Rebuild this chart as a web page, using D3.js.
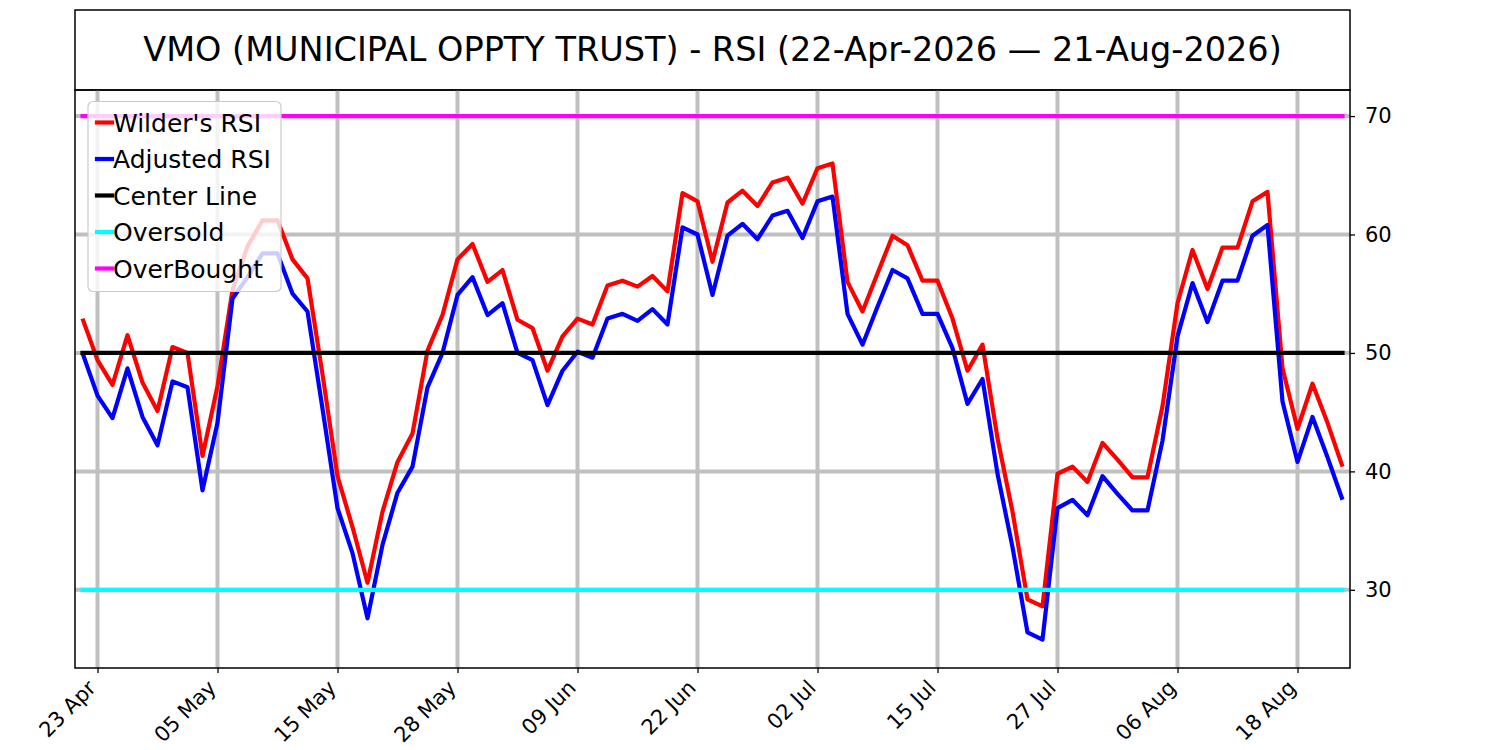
<!DOCTYPE html>
<html>
<head>
<meta charset="utf-8">
<script src="https://cdn.jsdelivr.net/npm/d3@7"></script>
<style>
  body { margin: 0; background: #fff; }
  svg { font-family: "DejaVu Sans", sans-serif; }
</style>
</head>
<body>
<div id="chart"></div>
<script>
// chart data
var firstDay = "2026-04-22";
var lastDay = "2026-08-21";
var holidays = ["2026-05-25", "2026-06-19", "2026-07-03"];
var tickIndex = [1, 9, 17, 25, 33, 41, 49, 57, 65, 73, 81];
var yTicks = [30, 40, 50, 60, 70];

var wilderRSI = [52.9, 49.4, 47.3, 51.5, 47.5, 45.1, 50.5, 50.0, 41.3, 47.2,
    55.3, 59.0, 61.2, 61.2, 57.9, 56.3, 48.2, 39.6, 35.3, 30.6,
    36.6, 40.8, 43.2, 50.2, 53.2, 57.9, 59.2, 56.0, 57.0, 52.8,
    52.1, 48.5, 51.4, 52.9, 52.4, 55.7, 56.1, 55.6, 56.5, 55.2,
    63.5, 62.8, 57.7, 62.7, 63.7, 62.4, 64.4, 64.8, 62.6, 65.6,
    66.0, 56.0, 53.5, 56.7, 59.9, 59.1, 56.1, 56.1, 52.9, 48.5,
    50.7, 42.8, 36.6, 29.2, 28.6, 39.8, 40.4, 39.1, 42.4, 41.0,
    39.5, 39.5, 45.5, 54.2, 58.7, 55.4, 58.9, 58.9, 62.8, 63.6,
    48.7, 43.6, 47.4, 44.1, 40.4];

var adjustedRSI = [50.0, 46.4, 44.5, 48.7, 44.6, 42.2, 47.6, 47.1, 38.4, 44.1,
    54.6, 56.4, 58.4, 58.4, 55.0, 53.5, 45.3, 36.9, 33.1, 27.6,
    33.8, 38.2, 40.4, 47.1, 50.0, 54.9, 56.4, 53.2, 54.2, 50.0,
    49.4, 45.6, 48.5, 50.1, 49.6, 52.9, 53.3, 52.7, 53.7, 52.4,
    60.6, 60.0, 54.9, 59.9, 60.9, 59.6, 61.6, 62.0, 59.7, 62.8,
    63.2, 53.3, 50.7, 53.9, 57.0, 56.3, 53.3, 53.3, 50.4, 45.7,
    47.8, 39.8, 33.6, 26.4, 25.8, 36.9, 37.6, 36.3, 39.6, 38.1,
    36.7, 36.7, 42.6, 51.4, 55.9, 52.6, 56.1, 56.1, 59.9, 60.8,
    45.9, 40.8, 44.6, 41.2, 37.6];

var centerLevel = 50;
var oversoldLevel = 30;
var overboughtLevel = 70;

var seriesNames = ["Wilder's RSI", "Adjusted RSI", "Center Line", "Oversold", "OverBought"];
var seriesColors = ["#ff0000", "#0000ff", "#000000", "#00ffff", "#ff00ff"];

function init() {
    var w = 1500;
    var h = 750;
    var left = 75, right = 1350, top = 90, bottom = 668;

    // trading days between first and last day
    var parse = d3.timeParse("%Y-%m-%d");
    var fmtKey = d3.timeFormat("%Y-%m-%d");
    var dates = d3.timeDay.range(parse(firstDay), d3.timeDay.offset(parse(lastDay), 1))
        .filter(function (d) {
            return d.getDay() !== 0 && d.getDay() !== 6 && holidays.indexOf(fmtKey(d)) < 0;
        });
    var fmtTick = d3.timeFormat("%d %b");
    var n = wilderRSI.length;

    var xScale = d3.scaleLinear()
        .domain([-0.5, n - 0.5])
        .range([left, right]);

    var yScale = d3.scaleLinear()
        .domain([23.4, 72.2])
        .range([bottom, top]);

    var svg = d3.select("#chart")
        .append("svg")
        .attr("width", w)
        .attr("height", h);

    // title box
    svg.append("rect")
        .attr("x", left)
        .attr("y", 10)
        .attr("width", right - left)
        .attr("height", top - 10)
        .attr("fill", "white")
        .attr("stroke", "black")
        .attr("stroke-width", 1.5);

    svg.append("text")
        .attr("x", (left + right) / 2)
        .attr("y", 61)
        .attr("text-anchor", "middle")
        .attr("font-size", "33.5px")
        .text("VMO (MUNICIPAL OPPTY TRUST) - RSI (22-Apr-2026 \u2014 21-Aug-2026)");

    // grid
    svg.append("g")
        .selectAll("line")
        .data(tickIndex)
        .enter()
        .append("line")
        .attr("x1", function (d) { return xScale(d); })
        .attr("x2", function (d) { return xScale(d); })
        .attr("y1", top)
        .attr("y2", bottom)
        .attr("stroke", "#c0c0c0")
        .attr("stroke-width", 4);

    svg.append("g")
        .selectAll("line")
        .data(yTicks)
        .enter()
        .append("line")
        .attr("x1", left)
        .attr("x2", right)
        .attr("y1", function (d) { return yScale(d); })
        .attr("y2", function (d) { return yScale(d); })
        .attr("stroke", "#c0c0c0")
        .attr("stroke-width", 4);

    var line = d3.line()
        .x(function (d, i) { return xScale(i); })
        .y(function (d) { return yScale(d); });

    var levelData = [
        wilderRSI,
        adjustedRSI,
        wilderRSI.map(function () { return centerLevel; }),
        wilderRSI.map(function () { return oversoldLevel; }),
        wilderRSI.map(function () { return overboughtLevel; })
    ];

    levelData.forEach(function (vals, k) {
        svg.append("path")
            .datum(vals)
            .attr("fill", "none")
            .attr("stroke", seriesColors[k])
            .attr("stroke-width", 4.2)
            .attr("stroke-linejoin", "round")
            .attr("stroke-linecap", k < 2 ? "butt" : "square")
            .attr("d", line);
    });

    // frame
    svg.append("rect")
        .attr("x", left)
        .attr("y", top)
        .attr("width", right - left)
        .attr("height", bottom - top)
        .attr("fill", "none")
        .attr("stroke", "black")
        .attr("stroke-width", 1.5);

    // axes
    var xAxis = d3.axisBottom(xScale)
        .tickValues(tickIndex)
        .tickSize(5)
        .tickFormat(function (i) { return fmtTick(dates[i]); });

    var gx = svg.append("g")
        .attr("transform", "translate(0," + bottom + ")")
        .call(xAxis);
    gx.select(".domain").remove();
    gx.selectAll(".tick line").attr("stroke", "black").attr("stroke-width", 1.3);
    gx.selectAll(".tick text")
        .attr("font-size", "21px")
        .attr("font-family", "DejaVu Sans")
        .attr("fill", "black")
        .attr("text-anchor", "end")
        .attr("x", -6)
        .attr("y", 16)
        .attr("dy", "0.35em")
        .attr("transform", "rotate(-45 -6 16)");

    var yAxis = d3.axisRight(yScale)
        .tickValues(yTicks)
        .tickSize(5)
        .tickPadding(10);

    var gy = svg.append("g")
        .attr("transform", "translate(" + right + ",0)")
        .call(yAxis);
    gy.select(".domain").remove();
    gy.selectAll(".tick line").attr("stroke", "black").attr("stroke-width", 1.3);
    gy.selectAll(".tick text")
        .attr("font-size", "21px")
        .attr("font-family", "DejaVu Sans")
        .attr("fill", "black");

    // legend
    var legend = svg.append("g");
    legend.append("rect")
        .attr("x", 88)
        .attr("y", 101.5)
        .attr("width", 193)
        .attr("height", 190)
        .attr("rx", 5)
        .attr("fill", "white")
        .attr("fill-opacity", 0.8)
        .attr("stroke", "#cccccc")
        .attr("stroke-width", 1.2);

    seriesNames.forEach(function (name, k) {
        var cy = 122.5 + k * 36.5;
        legend.append("line")
            .attr("x1", 97)
            .attr("x2", 112)
            .attr("y1", cy)
            .attr("y2", cy)
            .attr("stroke", seriesColors[k])
            .attr("stroke-width", 4.2)
            .attr("stroke-linecap", "square");
        legend.append("text")
            .attr("x", 113)
            .attr("y", cy)
            .attr("dy", "0.36em")
            .attr("font-size", "25px")
            .text(name);
    });
}

window.onload = init;
</script>
</body>
</html>
